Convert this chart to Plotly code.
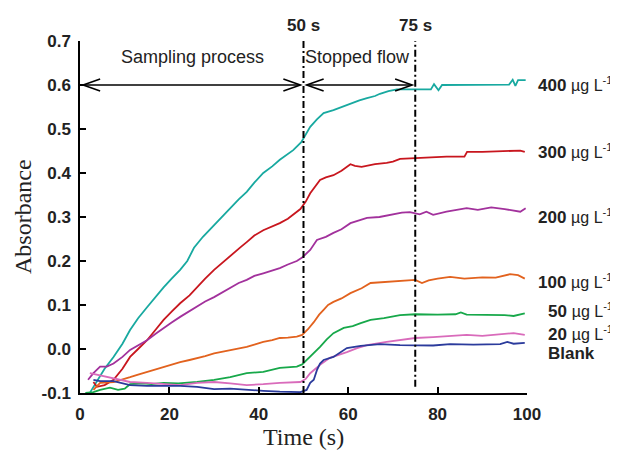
import plotly.graph_objects as go

# ---- data ----
t_400 = [2.3, 4, 5.5, 7.5, 9.5, 11.2, 13, 15, 17, 18.7, 20.5, 22.4, 24, 25.5, 27.5, 29.8, 31.5, 33.5, 35.5, 37.3,
         39, 41, 43, 44.7, 46.5, 47.7, 49.5, 51.5, 53, 54.5, 56.7, 58.5, 60.5, 62.5, 64.2, 66, 67.1, 69, 70.9,
         73, 75, 77, 78.5, 79.2, 80.2, 81, 82.8, 85, 88, 91, 94, 96, 96.8, 97.4, 98, 99.7]
a_400 = [-0.098, -0.07, -0.045, -0.018, 0.012, 0.043, 0.07, 0.095, 0.12, 0.14, 0.16, 0.18, 0.2, 0.23, 0.255, 0.28,
         0.298, 0.32, 0.34, 0.357, 0.378, 0.40, 0.415, 0.43, 0.442, 0.452, 0.47, 0.505, 0.522, 0.536, 0.543, 0.55,
         0.559, 0.565, 0.57, 0.575, 0.58, 0.586, 0.59, 0.59, 0.59, 0.59, 0.59, 0.602, 0.588, 0.6, 0.6, 0.6, 0.6,
         0.6, 0.6, 0.601, 0.612, 0.598, 0.611, 0.611]

t_300 = [3, 3.8, 5.5, 7.5, 9.5, 11.2, 13, 15, 17, 18.7, 20.5, 22.4, 24.5, 26.2, 28, 30, 32, 34.4, 36, 37.3, 39, 41,
         43, 44.7, 46.5, 47.7, 49.3, 50.5, 51.5, 53.7, 55, 56.7, 58.5, 60.5, 61.5, 63, 66, 68.6, 70, 71.6, 75, 78.5,
         82, 86, 86.6, 90, 95, 98.5, 99.5]
a_300 = [-0.075, -0.086, -0.082, -0.07, -0.045, -0.018, 0.0, 0.02, 0.045, 0.066, 0.085, 0.104, 0.122, 0.141, 0.16,
         0.18, 0.198, 0.218, 0.232, 0.243, 0.258, 0.27, 0.278, 0.286, 0.296, 0.305, 0.318, 0.335, 0.354, 0.384,
         0.39, 0.395, 0.405, 0.42, 0.416, 0.414, 0.42, 0.423, 0.426, 0.432, 0.434, 0.436, 0.437, 0.437, 0.448,
         0.448, 0.449, 0.451, 0.448]

t_200 = [1.8, 3, 4.5, 6, 7.5, 9.5, 11.2, 13, 15, 17, 18.7, 20.5, 22.4, 24.5, 26.2, 28, 30, 32, 33.6, 35.5, 37.3,
         39, 41, 43, 44.7, 46.5, 48.5, 49.7, 51.5, 53, 55, 56.7, 58.5, 60.5, 62.5, 64.2, 67, 70, 72, 73.8, 76,
         77.5, 79, 82, 84, 86.5, 89, 92, 95, 97, 98.5, 99.7]
a_200 = [-0.07, -0.055, -0.04, -0.04, -0.033, -0.018, -0.002, 0.008, 0.02, 0.035, 0.048, 0.06, 0.073, 0.086, 0.096,
         0.108, 0.118, 0.13, 0.139, 0.15, 0.157, 0.166, 0.172, 0.178, 0.184, 0.192, 0.2, 0.208, 0.225, 0.248, 0.255,
         0.264, 0.272, 0.286, 0.292, 0.298, 0.3, 0.305, 0.31, 0.311, 0.306, 0.312, 0.305, 0.312, 0.315, 0.32, 0.316,
         0.322, 0.318, 0.315, 0.312, 0.32]

t_100 = [3, 4.5, 7.5, 9.5, 11.2, 13, 15, 17, 18.7, 20.5, 22.4, 24.5, 26.2, 28, 30, 32, 33.6, 35.5, 37.3, 39, 41, 43,
         44.7, 46.5, 48.5, 49.7, 51, 52.3, 53.5, 54.5, 55.5, 56.7, 58.5, 60.5, 63, 65, 68, 71.6, 75, 76.5, 78, 80,
         82.8, 86, 90, 93, 96.2, 98, 99.5]
a_100 = [-0.093, -0.077, -0.075, -0.07, -0.064, -0.058, -0.052, -0.046, -0.04, -0.035, -0.03, -0.025, -0.021,
         -0.016, -0.01, -0.006, -0.002, 0.002, 0.005, 0.01, 0.016, 0.02, 0.025, 0.026, 0.028, 0.032, 0.045, 0.061,
         0.078, 0.089, 0.1, 0.107, 0.115, 0.127, 0.138, 0.15, 0.152, 0.155, 0.157, 0.15, 0.156, 0.16, 0.164,
         0.16, 0.163, 0.162, 0.17, 0.168, 0.16]

t_50 = [1.2, 3, 4.5, 6.7, 8.5, 10, 11.2, 14, 16, 18.7, 22, 26.2, 30, 33.6, 37.3, 41, 44.7, 48.5, 49.7, 51.5, 53.7,
        55.2, 56.7, 59, 61, 62.8, 65, 68, 71.6, 75, 80, 84, 85.2, 86.5, 90, 95, 97, 99.5]
a_50 = [-0.1, -0.098, -0.093, -0.088, -0.093, -0.09, -0.08, -0.078, -0.08, -0.077, -0.078, -0.075, -0.07, -0.064,
        -0.055, -0.052, -0.043, -0.04, -0.035, -0.018, 0.005, 0.022, 0.036, 0.048, 0.052, 0.059, 0.066, 0.07,
        0.077, 0.079, 0.078, 0.079, 0.083, 0.078, 0.078, 0.077, 0.075, 0.081]

t_20 = [2.2, 4.5, 7.5, 9.5, 11.2, 15, 18.7, 22.4, 26.2, 30, 33.6, 37.3, 41, 44.7, 49.3, 50.5, 51.5, 53.7, 55.9,
        57.5, 59.7, 62, 64.2, 68.6, 72, 75, 79, 83, 86.5, 90, 94, 97, 99.5]
a_20 = [-0.055, -0.06, -0.066, -0.07, -0.075, -0.077, -0.08, -0.082, -0.077, -0.075, -0.078, -0.082, -0.08, -0.077,
        -0.075, -0.068, -0.055, -0.036, -0.02, -0.015, -0.007, 0.002, 0.009, 0.016, 0.02, 0.025, 0.027, 0.03,
        0.032, 0.03, 0.034, 0.036, 0.032]

t_blank = [3, 4.5, 7.5, 9.5, 11.2, 15, 18.7, 22.4, 26.2, 30, 33.6, 37.3, 41, 44.7, 49.3, 50.7, 51.5, 52.3, 53,
           53.7, 54.5, 56.7, 58, 59.7, 62.8, 67.1, 71.6, 75, 79, 82.8, 88, 94, 95.6, 97, 99.5]
a_blank = [-0.07, -0.073, -0.073, -0.078, -0.082, -0.084, -0.084, -0.084, -0.086, -0.091, -0.09, -0.093, -0.095,
           -0.097, -0.098, -0.093, -0.077, -0.07, -0.048, -0.033, -0.025, -0.018, -0.01, 0.002, 0.007, 0.011,
           0.009, 0.009, 0.008, 0.011, 0.01, 0.011, 0.016, 0.012, 0.014]

series_names = ["400", "300", "200", "100", "50", "20", "Blank"]
series_t = [t_400, t_300, t_200, t_100, t_50, t_20, t_blank]
series_a = [a_400, a_300, a_200, a_100, a_50, a_20, a_blank]
colors = ["#18a9a0", "#c8161e", "#a2319c", "#e2621e", "#17a84a", "#d96bbb", "#2b3b9c"]

x_ticks = [0, 20, 40, 60, 80, 100]
y_ticks = [-0.1, 0.0, 0.1, 0.2, 0.3, 0.4, 0.5, 0.6, 0.7]
y_tick_text = ["-0.1", "0.0", "0.1", "0.2", "0.3", "0.4", "0.5", "0.6", "0.7"]

label_nums = ["400", "300", "200", "100", "50", "20"]
unit_html = "<span style='font-size:16px'>µg L<sup>-1</sup></span>"
label_texts = ["<b>%s</b> %s" % (n, unit_html) for n in label_nums] + ["<b>Blank</b>"]
label_px = [1.020, 1.020, 1.020, 1.020, 1.0425, 1.0425, 1.0425]
label_py = [0.877, 0.687, 0.502, 0.318, 0.233, 0.170, 0.111]

SANS = "Liberation Sans, Arial, sans-serif"
SERIF = "Liberation Serif, Times New Roman, serif"
TXT = "#222222"

fig = go.Figure()
for name, tt, aa, c in zip(series_names, series_t, series_a, colors):
    fig.add_trace(go.Scatter(x=tt, y=aa, mode="lines", name=name,
                             line=dict(color=c, width=1.8), showlegend=False))

shapes = []
shapes.append(dict(type="line", xref="x", yref="y", x0=50, x1=50, y0=-0.1, y1=0.707,
                   line=dict(color="black", width=2, dash="7px,3px,2px,3px")))
shapes.append(dict(type="line", xref="x", yref="y", x0=75, x1=75, y0=-0.086, y1=0.707,
                   line=dict(color="black", width=2, dash="7px,3px,2px,3px")))
for xa, xb in [(0.7, 49.3), (50.7, 74.3)]:
    shapes.append(dict(type="line", xref="x", yref="y", x0=xa, x1=xb, y0=0.6, y1=0.6,
                       line=dict(color="black", width=1.6)))
    shapes.append(dict(type="path", xref="x", yref="y", xsizemode="pixel", ysizemode="pixel",
                       xanchor=xa, yanchor=0.6, path="M 17,6 L 0,0 L 17,-6",
                       line=dict(color="black", width=1.6)))
    shapes.append(dict(type="path", xref="x", yref="y", xsizemode="pixel", ysizemode="pixel",
                       xanchor=xb, yanchor=0.6, path="M -17,6 L 0,0 L -17,-6",
                       line=dict(color="black", width=1.6)))

annotations = []
annotations.append(dict(x=25.2, y=0.664, xref="x", yref="y", text="Sampling process", showarrow=False,
                        font=dict(family=SANS, size=18, color=TXT), xanchor="center", yanchor="middle"))
annotations.append(dict(x=62.1, y=0.664, xref="x", yref="y", text="Stopped flow", showarrow=False,
                        font=dict(family=SANS, size=18, color=TXT), xanchor="center", yanchor="middle"))
annotations.append(dict(x=0.5, y=1.045, xref="paper", yref="paper", text="<b>50 s</b>", showarrow=False,
                        font=dict(family=SANS, size=17, color=TXT), xanchor="center", yanchor="middle"))
annotations.append(dict(x=0.75, y=1.045, xref="paper", yref="paper", text="<b>75 s</b>", showarrow=False,
                        font=dict(family=SANS, size=17, color=TXT), xanchor="center", yanchor="middle"))
for txt, lx, ly in zip(label_texts, label_px, label_py):
    annotations.append(dict(x=lx, y=ly, xref="paper", yref="paper", text=txt, showarrow=False,
                            font=dict(family=SANS, size=17, color=TXT), xanchor="left", yanchor="middle"))
annotations.append(dict(x=0.5, y=-0.125, xref="paper", yref="paper", text="Time (s)", showarrow=False,
                        font=dict(family=SERIF, size=24, color=TXT), xanchor="center", yanchor="middle"))
annotations.append(dict(x=-0.1275, y=0.5, xref="paper", yref="paper", text="Absorbance", showarrow=False,
                        textangle=-90, font=dict(family=SERIF, size=24, color=TXT),
                        xanchor="center", yanchor="middle"))

# page body has an 8px margin, so the figure is made 8px smaller and margins reduced accordingly
fig.update_layout(
    width=610, height=445,
    margin=dict(l=72, r=91, t=33, b=60, pad=0),
    plot_bgcolor="white", paper_bgcolor="white",
    shapes=shapes, annotations=annotations,
    xaxis=dict(range=[0, 100], tickvals=x_ticks, ticktext=["<b>%d</b>" % v for v in x_ticks],
               ticks="inside", ticklen=6, tickwidth=1.5, automargin=False,
               tickcolor="black", showline=True, linecolor="black", linewidth=1.5,
               showgrid=False, zeroline=False, ticklabelstandoff=5,
               tickfont=dict(family=SANS, size=17, color=TXT)),
    yaxis=dict(range=[-0.1, 0.7], tickvals=y_ticks, ticktext=["<b>" + s + "</b>" for s in y_tick_text],
               ticks="inside", ticklen=6, tickwidth=1.5, automargin=False,
               tickcolor="black", showline=True, linecolor="black", linewidth=1.5,
               showgrid=False, zeroline=False, ticklabelstandoff=4,
               tickfont=dict(family=SANS, size=17, color=TXT)),
)

fig.write_html("out.html")
